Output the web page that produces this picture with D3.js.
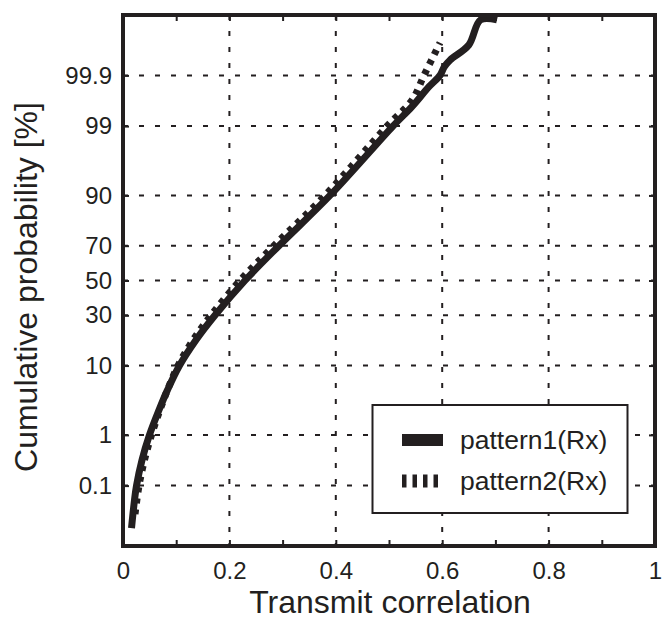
<!DOCTYPE html>
<html><head><meta charset="utf-8">
<script src="https://cdn.jsdelivr.net/npm/d3@7"></script>
<style>body{margin:0;background:#fff} text{font-family:"Liberation Sans",Arial,Helvetica,sans-serif}</style>
</head><body><svg id="c" width="662" height="626"></svg>
<script>
// ---- data ----
const xTicks = [0, 0.2, 0.4, 0.6, 0.8, 1];
const xMinorTicks = [0.1, 0.3, 0.5, 0.7, 0.9];
const yTicks = [0.1, 1, 10, 30, 50, 70, 90, 99, 99.9];
const seriesNames = ["pattern1(Rx)", "pattern2(Rx)"];
const xTitle = "Transmit correlation";
const yTitle = "Cumulative probability [%]";

const p1Corr = [0.0160, 0.0216, 0.0254, 0.0357, 0.0498, 0.0677, 0.0836, 0.1062, 0.1372, 0.1729, 0.2293, 0.2932, 0.3891, 0.5075, 0.5432, 0.5752, 0.5959, 0.604, 0.615, 0.650, 0.672, 0.703];
const p1Prob = [0.0096, 0.047, 0.1, 0.342, 1, 2.55, 4.95, 10, 18.5, 30, 50, 70, 90, 99, 99.56, 99.825, 99.9, 99.936, 99.9555, 99.9806, 99.9957, 99.9957];
const p2Corr = [0.0226, 0.0301, 0.0404, 0.0536, 0.0695, 0.0836, 0.1034, 0.1316, 0.1654, 0.2199, 0.2838, 0.3797, 0.4962, 0.5432, 0.5658, 0.5959];
const p2Prob = [0.0216, 0.1, 0.342, 1, 2.55, 4.95, 10, 18.5, 30, 50, 70, 90, 99, 99.67, 99.9, 99.983];

// inverse standard normal CDF (probability paper transform)
function probit(p){
  const a=[-3.969683028665376e+01,2.209460984245205e+02,-2.759285104469687e+02,1.383577518672690e+02,-3.066479806614716e+01,2.506628277459239e+00];
  const b=[-5.447609879822406e+01,1.615858368580409e+02,-1.556989798598866e+02,6.680131188771972e+01,-1.328068155288572e+01];
  const c=[-7.784894002430293e-03,-3.223964580411365e-01,-2.400758277161838e+00,-2.549732539343734e+00,4.374664141464968e+00,2.938163982698783e+00];
  const d=[7.784695709041462e-03,3.224671290700398e-01,2.445134137142996e+00,3.754408661907416e+00];
  const pl=0.02425, ph=1-pl; let q,r;
  if(p<pl){q=Math.sqrt(-2*Math.log(p));return (((((c[0]*q+c[1])*q+c[2])*q+c[3])*q+c[4])*q+c[5])/((((d[0]*q+d[1])*q+d[2])*q+d[3])*q+1);}
  if(p<=ph){q=p-0.5;r=q*q;return (((((a[0]*r+a[1])*r+a[2])*r+a[3])*r+a[4])*r+a[5])*q/(((((b[0]*r+b[1])*r+b[2])*r+b[3])*r+b[4])*r+1);}
  q=Math.sqrt(-2*Math.log(1-p));return -(((((c[0]*q+c[1])*q+c[2])*q+c[3])*q+c[4])*q+c[5])/((((d[0]*q+d[1])*q+d[2])*q+d[3])*q+1);
}

const ink = "#231f20";
const svg = d3.select("#c");
const L = 123, R = 655, T = 15, B = 546;
const x = d3.scaleLinear().domain([0, 1]).range([L, R]);
const y = d3.scaleLinear().domain([-4, 4]).range([B, T]);
const yz = p => y(probit(p / 100));

// grid
const grid = svg.append("g").attr("stroke", ink).attr("stroke-width", 2).attr("stroke-dasharray", "5,11");
grid.selectAll(".gx").data(xTicks.slice(1, -1)).join("line")
  .attr("x1", d => x(d)).attr("x2", d => x(d)).attr("y1", T).attr("y2", B);
grid.selectAll(".gy").data(yTicks).join("line")
  .attr("x1", L).attr("x2", R).attr("y1", d => yz(d)).attr("y2", d => yz(d));

// curves
svg.append("clipPath").attr("id", "clip").append("rect")
  .attr("x", L).attr("y", T).attr("width", R - L).attr("height", B - T);
const line = d3.line().x(d => x(d[0])).y(d => yz(d[1])).curve(d3.curveCatmullRom.alpha(0.5));
const s1 = p1Corr.map((v, i) => [v, p1Prob[i]]);
const s2 = p2Corr.map((v, i) => [v, p2Prob[i]]);
const cg = svg.append("g").attr("clip-path", "url(#clip)").attr("fill", "none").attr("stroke", ink);
cg.append("path").attr("d", line(s2)).attr("stroke-width", 7).attr("stroke-dasharray", "5,6");
cg.append("path").attr("d", line(s1)).attr("stroke-width", 7).attr("stroke-linejoin", "round");

// axes (inward ticks)
function styleAxis(g){
  g.select(".domain").remove();
  g.selectAll(".tick line").attr("stroke", ink).attr("stroke-width", 2);
  g.selectAll(".tick text").attr("fill", ink).style("font-size", "24px").style("font-family", '"Liberation Sans",Arial,sans-serif');
}
svg.append("g").attr("transform", `translate(0,${B})`)
  .call(d3.axisBottom(x).tickValues(xTicks).tickSize(-6).tickPadding(16).tickFormat(d3.format("~g"))).call(styleAxis);
svg.append("g").attr("transform", `translate(0,${B})`)
  .call(d3.axisBottom(x).tickValues(xMinorTicks).tickSize(-6).tickFormat("")).call(styleAxis);
svg.append("g").attr("transform", `translate(0,${T})`)
  .call(d3.axisTop(x).tickValues(xTicks.concat(xMinorTicks)).tickSize(-6).tickFormat("")).call(styleAxis);
svg.append("g").attr("transform", `translate(${L},0)`)
  .call(d3.axisLeft(y).tickValues(yTicks.map(v => probit(v / 100))).tickSize(-6).tickPadding(11)
    .tickFormat((d, i) => String(yTicks[i]))).call(styleAxis);
svg.append("g").attr("transform", `translate(${R},0)`)
  .call(d3.axisRight(y).tickValues(yTicks.map(v => probit(v / 100))).tickSize(-6).tickFormat("")).call(styleAxis);

// frame
svg.append("rect").attr("x", L).attr("y", T).attr("width", R - L).attr("height", B - T)
  .attr("fill", "none").attr("stroke", ink).attr("stroke-width", 4);

// titles
svg.append("text").attr("x", 390).attr("y", 613).attr("text-anchor", "middle")
  .attr("fill", ink).style("font-size", "32px").text(xTitle);
svg.append("text").attr("transform", "translate(37,287) rotate(-90)").attr("text-anchor", "middle")
  .attr("fill", ink).style("font-size", "32px").text(yTitle);

// legend
const lg = svg.append("g");
lg.append("rect").attr("x", 372.5).attr("y", 405).attr("width", 255).attr("height", 108)
  .attr("fill", "#fff").attr("stroke", ink).attr("stroke-width", 2);
const legendRows = [{y: 440, w: 12, dash: null, x2: 443}, {y: 481, w: 13, dash: "4.5,6", x2: 440}];
legendRows.forEach((r, i) => {
  lg.append("line").attr("x1", 402).attr("x2", r.x2).attr("y1", r.y).attr("y2", r.y)
    .attr("stroke", ink).attr("stroke-width", r.w).attr("stroke-dasharray", r.dash);
  lg.append("text").attr("x", 460).attr("y", r.y + 9).attr("fill", ink)
    .style("font-size", "26.5px").text(seriesNames[i]);
});
</script></body></html>
